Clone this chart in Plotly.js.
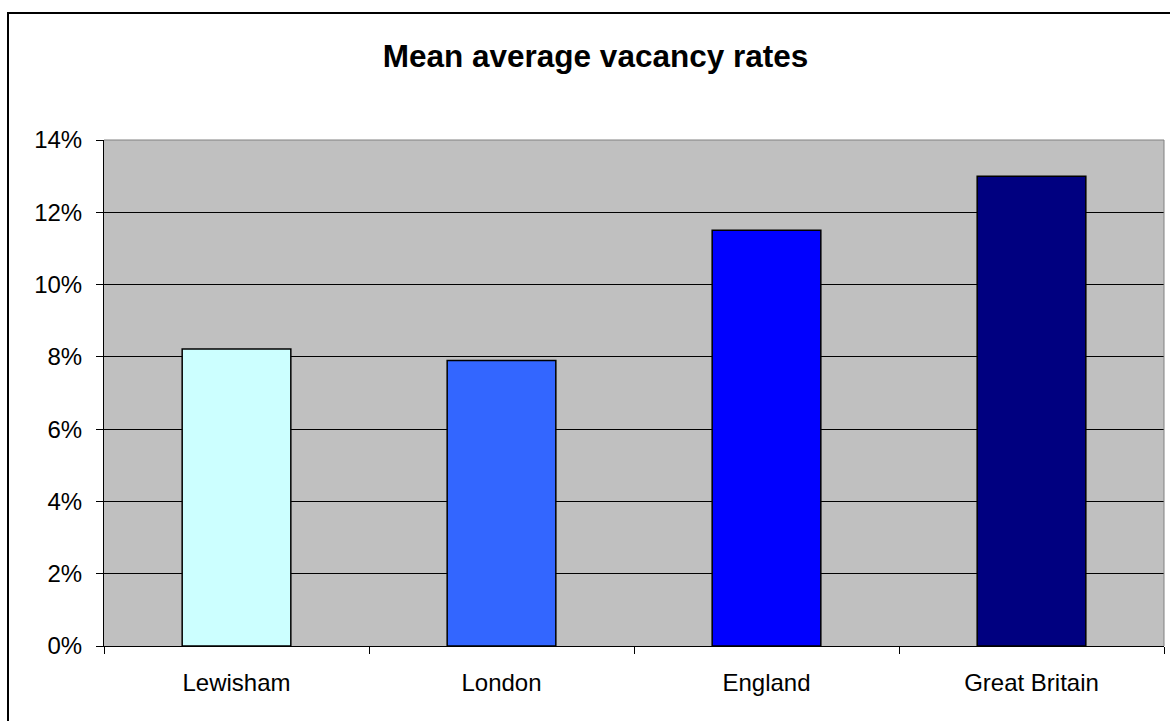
<!DOCTYPE html>
<html>
<head>
<meta charset="utf-8">
<script src="https://cdn.plot.ly/plotly-3.0.1.min.js"></script>
<style>
  html, body { margin: 0; padding: 0; overflow: hidden; background: #fff; }
  #plot { width: 1170px; height: 721px; }
  #frame { position: absolute; left: 7px; top: 12px; width: 1300px; height: 900px;
           border: 2px solid #000; pointer-events: none; }
</style>
</head>
<body>
<div id="plot"></div>
<div id="frame"></div>
<script>
// Mean average vacancy rates - bar chart

let areas = ["Lewisham", "London", "England", "Great Britain"];
let vacancyRates = [0.0822, 0.0790, 0.1150, 0.1300];
let yTicks = [0, 0.02, 0.04, 0.06, 0.08, 0.10, 0.12, 0.14];

// one fill per bar
let barColors = ["#CCFFFF", "#3366FF", "#0000FF", "#000080"];

let trace1 = {
  x: areas,
  y: vacancyRates,
  type: "bar",
  marker: {
    color: barColors,
    line: { color: "#000", width: 1.5 }
  },
  hoverinfo: "x+y"
};

let font = "Liberation Sans, Arial, sans-serif";

let layout = {
  width: 1170,
  height: 721,
  title: {
    text: "<b>Mean average vacancy rates</b>",
    font: { family: font, size: 31.5, color: "#000" },
    x: 0.509,
    xref: "container",
    xanchor: "center",
    y: 0.922,
    yref: "container",
    yanchor: "middle"
  },
  paper_bgcolor: "#fff",
  plot_bgcolor: "#C0C0C0",
  bargap: 0.59,
  showlegend: false,
  margin: { l: 104, r: 6, t: 140, b: 75, pad: 0 },
  xaxis: {
    type: "category",
    showline: true,
    linecolor: "#000",
    linewidth: 1,
    ticks: "outside",
    tickson: "boundaries",
    ticklen: 7,
    tickcolor: "#000",
    showgrid: false,
    ticklabelstandoff: 15,
    tickfont: { family: font, size: 24, color: "#000" }
  },
  yaxis: {
    range: [0, 0.14],
    tickvals: yTicks,
    tickformat: ".0%",
    showline: true,
    linecolor: "#000",
    linewidth: 1,
    ticks: "outside",
    ticklen: 7,
    tickcolor: "#000",
    showgrid: true,
    gridcolor: "#000",
    gridwidth: 1,
    zeroline: false,
    ticklabelstandoff: 9,
    tickfont: { family: font, size: 24, color: "#000" }
  },
  shapes: [{
    type: "path",
    xref: "paper",
    yref: "paper",
    path: "M0,1 L1,1 L1,0",
    line: { color: "#808080", width: 1 },
    layer: "above"
  }]
};

Plotly.newPlot("plot", [trace1], layout, { displayModeBar: false, staticPlot: true });
</script>
</body>
</html>
